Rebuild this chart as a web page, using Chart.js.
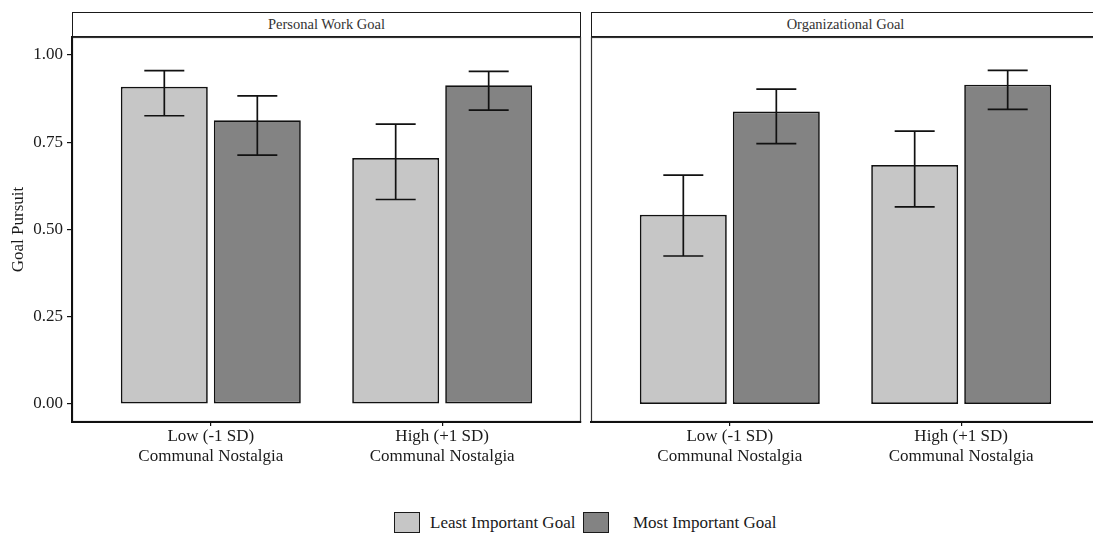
<!DOCTYPE html>
<html>
<head>
<meta charset="utf-8">
<script src="https://cdn.jsdelivr.net/npm/chart.js@4/dist/chart.umd.min.js"></script>
<style>
  html, body { margin: 0; padding: 0; background: #fff; overflow: hidden; }
  body { width: 1093px; height: 535px; position: relative; font-family: "Liberation Serif", "DejaVu Serif", serif; }
  canvas { position: absolute; }
  .strip {
    position: absolute; top: 12px; height: 25px; width: 509px; box-sizing: border-box;
    border: 1.5px solid #1a1a1a; background: #fff; color: #333;
    font-size: 14.5px; line-height: 22px; text-align: center;
  }
  .legend { position: absolute; top: 512px; left: 0; width: 1093px; height: 23px; }
  .key { position: absolute; top: 0; width: 26px; height: 21px; box-sizing: border-box; border: 1.5px solid #1a1a1a; }
  .lab { position: absolute; top: 0; font-size: 17px; line-height: 21px; color: #1a1a1a; white-space: nowrap; }
</style>
</head>
<body>
<div class="strip" style="left:72px">Personal Work Goal</div>
<div class="strip" style="left:591px">Organizational Goal</div>
<canvas id="personal" width="586" height="445" style="left:0px;top:30px"></canvas>
<canvas id="organizational" width="514" height="445" style="left:586px;top:30px"></canvas>
<div class="legend">
  <div class="key" style="left:394px;background:#c6c6c6"></div>
  <div class="lab" style="left:430px">Least Important Goal</div>
  <div class="key" style="left:583px;background:#838383"></div>
  <div class="lab" style="left:633px">Most Important Goal</div>
</div>
<script>
// Communal nostalgia levels (x categories)
const groupLabels = [['Low (-1 SD)', 'Communal Nostalgia'], ['High (+1 SD)', 'Communal Nostalgia']];
const yTicks = [0, 0.25, 0.5, 0.75, 1.0];
const seriesNames = ['Least Important Goal', 'Most Important Goal'];

// Personal work goal: means and confidence limits
const personalLeast   = [0.909, 0.705];
const personalLeastLo = [0.826, 0.586];
const personalLeastHi = [0.955, 0.802];
const personalMost    = [0.813, 0.913];
const personalMostLo  = [0.713, 0.842];
const personalMostHi  = [0.883, 0.953];

// Organizational goal: means and confidence limits
const orgLeast   = [0.542, 0.685];
const orgLeastLo = [0.424, 0.565];
const orgLeastHi = [0.656, 0.782];
const orgMost    = [0.838, 0.915];
const orgMostLo  = [0.746, 0.844];
const orgMostHi  = [0.902, 0.956];

const lightFill = '#c6c6c6';
const darkFill = '#838383';
const ink = '#1a1a1a';
const serif = '"Liberation Serif", "DejaVu Serif", serif';

// Thin panel frame; the left/bottom axis lines are drawn by the scales on top
const panelFrame = {
  id: 'panelFrame',
  beforeDraw(chart) {
    const a = chart.chartArea, ctx = chart.ctx;
    ctx.save();
    ctx.strokeStyle = '#333';
    ctx.lineWidth = 1.2;
    ctx.strokeRect(a.left + 0.5, a.top + 0.5, a.right - a.left - 1, a.bottom - a.top - 1);
    ctx.restore();
  }
};

// Error bars with caps, read from each dataset's lo/hi arrays
const errorBars = {
  id: 'errorBars',
  afterDatasetsDraw(chart) {
    const ctx = chart.ctx, y = chart.scales.y;
    ctx.save();
    ctx.strokeStyle = '#111';
    ctx.lineWidth = 1.7;
    chart.data.datasets.forEach((ds, i) => {
      const meta = chart.getDatasetMeta(i);
      meta.data.forEach((bar, j) => {
        const x = bar.x;
        const yl = y.getPixelForValue(ds.lo[j]);
        const yh = y.getPixelForValue(ds.hi[j]);
        const cap = bar.width * 0.23;
        ctx.beginPath();
        ctx.moveTo(x, yl); ctx.lineTo(x, yh);
        ctx.moveTo(x - cap, yl); ctx.lineTo(x + cap, yl);
        ctx.moveTo(x - cap, yh); ctx.lineTo(x + cap, yh);
        ctx.stroke();
      });
    });
    ctx.restore();
  }
};

// Keep tick-label overhang from shrinking the plotting area
function noLabelPadding(s) {
  s.paddingLeft = 0; s.paddingRight = 0; s.paddingTop = 0; s.paddingBottom = 0;
  if (s._margins) { s._margins.left = 0; s._margins.right = 0; s._margins.top = 0; s._margins.bottom = 0; }
}

function makeDataset(name, values, lo, hi, fill) {
  return {
    label: name,
    data: values.map((v, i) => ({ x: i, y: v })),
    lo: lo, hi: hi,
    backgroundColor: fill,
    borderColor: '#111',
    borderWidth: 1.7,
    borderSkipped: false,
    categoryPercentage: 0.804,
    barPercentage: 0.935
  };
}

function makeChart(id, least, leastLo, leastHi, most, mostLo, mostHi, showY, padding) {
  return new Chart(document.getElementById(id), {
    type: 'bar',
    data: {
      datasets: [
        makeDataset(seriesNames[0], least, leastLo, leastHi, lightFill),
        makeDataset(seriesNames[1], most, mostLo, mostHi, darkFill)
      ]
    },
    plugins: [panelFrame, errorBars],
    options: {
      responsive: false,
      animation: false,
      devicePixelRatio: 1,
      layout: { padding: padding },
      plugins: { legend: { display: false }, tooltip: { enabled: false } },
      scales: {
        x: {
          type: 'linear',
          offset: false,
          min: -0.6, max: 1.6,
          afterBuildTicks: s => { s.ticks = groupLabels.map((_, i) => ({ value: i })); },
          afterFit: s => { s.height = 53; noLabelPadding(s); },
          ticks: {
            autoSkip: false, maxRotation: 0, padding: 0,
            color: ink, font: { family: serif, size: 17, lineHeight: 1.2 },
            callback: v => groupLabels[v]
          },
          grid: { offset: false, drawOnChartArea: false, drawTicks: true, tickLength: 4, color: '#111', lineWidth: 1.2 },
          border: { display: true, color: '#111', width: 2 }
        },
        y: {
          display: showY,
          min: -0.0516, max: 1.0516,
          afterBuildTicks: s => { s.ticks = yTicks.map(v => ({ value: v })); },
          afterFit: s => { s.width = showY ? 72 : 0; noLabelPadding(s); },
          ticks: {
            padding: 4, color: ink, font: { family: serif, size: 17 },
            callback: v => v.toFixed(2)
          },
          grid: { drawOnChartArea: false, drawTicks: true, tickLength: 5, color: '#111', lineWidth: 1.2 },
          border: { display: true, color: '#111', width: 2 },
          title: {
            display: true, text: 'Goal Pursuit', color: ink,
            font: { family: serif, size: 17 }, padding: { top: 8, bottom: 0 }
          }
        }
      }
    }
  });
}

makeChart('personal', personalLeast, personalLeastLo, personalLeastHi,
          personalMost, personalMostLo, personalMostHi, true,
          { left: 0, right: 5, top: 7, bottom: 0 });
makeChart('organizational', orgLeast, orgLeastLo, orgLeastHi,
          orgMost, orgMostLo, orgMostHi, false,
          { left: 5, right: 0, top: 7, bottom: 0 });
</script>
</body>
</html>
